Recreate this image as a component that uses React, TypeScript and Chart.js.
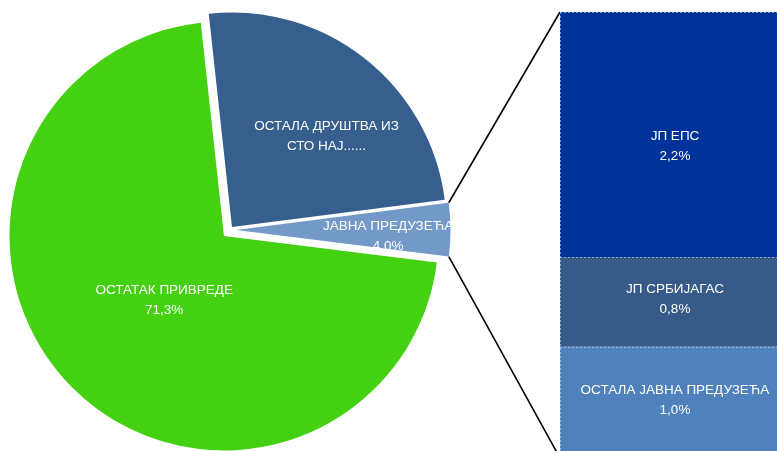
import React, { useEffect, useRef } from 'react';
import { Chart, registerables } from 'chart.js';

Chart.register(...registerables);

// ---- data ----
const pieCategories = ['ОСТАТАК ПРИВРЕДЕ', 'ОСТАЛА ДРУШТВА ИЗ СТО НАЈ......', 'ЈАВНА ПРЕДУЗЕЋА'];
const pieLabelLines = [['ОСТАТАК ПРИВРЕДЕ'], ['ОСТАЛА ДРУШТВА ИЗ', 'СТО НАЈ......'], ['ЈАВНА ПРЕДУЗЕЋА']];
const pieShowValue = [true, false, true];
const pieMainValues = [71.3, 24.7];
const barCategories = ['ОСТАЛА ЈАВНА ПРЕДУЗЕЋА', 'ЈП СРБИЈАГАС', 'ЈП ЕПС'];
const barValues = [1.0, 0.8, 2.2];
const barTotal = barValues.reduce((a, b) => a + b, 0);
const pieValues = [...pieMainValues, barTotal];

// ---- style ----
const pieColors = ['#44D111', '#365F8E', '#7399C8'];
const barColors = ['#4F81BD', '#375B89', '#003399'];
const FONT = '13.5px "Liberation Sans", Arial, sans-serif';
const W = 777;
const H = 451;
const PIE_W = 562;
const BAR_LEFT = 560;
const BAR_TOP = 12;
const BAR_W = 230;
const BAR_H = 446;
// explode vectors (dx, dy) per slice
const EXPLODE: [number, number][] = [[0, 0], [8, -9], [12, -6]];
// label placement: [radius fraction, angle tweak in degrees]
const PIE_LABEL_POS: [number, number][] = [[0.41, -2.6], [0.61, 8], [0.71, 2.3]];
const BAR_LABEL_NUDGE = [-1.5, -3, 12];
const LINE_GAP = 20;

const fmt = (v: number) => v.toFixed(1).replace('.', ',') + '%';

function drawLines(ctx: CanvasRenderingContext2D, lines: string[], x: number, y: number) {
  ctx.save();
  ctx.font = FONT;
  ctx.fillStyle = '#ffffff';
  ctx.textAlign = 'center';
  ctx.textBaseline = 'middle';
  const start = y - ((lines.length - 1) * LINE_GAP) / 2;
  lines.forEach((l, i) => ctx.fillText(l, x, start + i * LINE_GAP));
  ctx.restore();
}

export default function App() {
  const pieRef = useRef<HTMLCanvasElement | null>(null);
  const barRef = useRef<HTMLCanvasElement | null>(null);

  useEffect(() => {
    if (!pieRef.current || !barRef.current) return;

    const barPlugin = {
      id: 'barLabels',
      afterDatasetsDraw(chart: any) {
        const ctx = chart.ctx as CanvasRenderingContext2D;
        const area = chart.chartArea;
        ctx.save();
        ctx.strokeStyle = 'rgba(255,255,255,0.45)';
        ctx.lineWidth = 1;
        ctx.setLineDash([2, 2]);
        barValues.forEach((_, i) => {
          const el = chart.getDatasetMeta(i).data[0];
          ctx.beginPath();
          ctx.moveTo(area.left, Math.round(el.y) + 0.5);
          ctx.lineTo(area.right, Math.round(el.y) + 0.5);
          ctx.stroke();
        });
        ctx.beginPath();
        ctx.moveTo(area.left + 0.5, area.top);
        ctx.lineTo(area.left + 0.5, area.bottom);
        ctx.stroke();
        ctx.restore();
        barValues.forEach((v, i) => {
          const el = chart.getDatasetMeta(i).data[0];
          const cy = (el.y + el.base) / 2 + BAR_LABEL_NUDGE[i];
          drawLines(ctx, [barCategories[i], fmt(v)], el.x, cy);
        });
      },
    };

    const barChart = new Chart(barRef.current, {
      type: 'bar',
      data: {
        labels: [''],
        datasets: barCategories.map((c, i) => ({
          label: c,
          data: [barValues[i]],
          backgroundColor: barColors[i],
          borderWidth: 0,
          barPercentage: 1,
          categoryPercentage: 1,
        })),
      },
      options: {
        responsive: false,
        animation: false,
        events: [],
        layout: { padding: 0 },
        scales: {
          x: { display: false, stacked: true },
          y: { display: false, stacked: true, min: 0, max: barTotal },
        },
        plugins: { legend: { display: false }, tooltip: { enabled: false } },
      },
      plugins: [barPlugin],
    });

    const shiftOf = (i: number) => EXPLODE[i];

    const piePlugin = {
      id: 'pieOfBar',
      beforeDatasetsDraw(chart: any) {
        const ctx = chart.ctx as CanvasRenderingContext2D;
        const meta = chart.getDatasetMeta(0);
        meta.data.forEach((arc: any, i: number) => {
          const [dx, dy] = shiftOf(i);
          ctx.save();
          ctx.translate(dx, dy);
          arc.draw(ctx);
          ctx.restore();
        });
        return false;
      },
      afterDraw(chart: any) {
        const ctx = chart.ctx as CanvasRenderingContext2D;
        const meta = chart.getDatasetMeta(0);
        meta.data.forEach((arc: any, i: number) => {
          const [dx, dy] = shiftOf(i);
          const [rf, tweak] = PIE_LABEL_POS[i];
          const mid = (arc.startAngle + arc.endAngle) / 2 + (tweak * Math.PI) / 180;
          const r = arc.outerRadius * rf;
          const x = arc.x + dx + Math.cos(mid) * r;
          const y = arc.y + dy + Math.sin(mid) * r;
          const lines = [...pieLabelLines[i]];
          if (pieShowValue[i]) lines.push(fmt(pieValues[i]));
          drawLines(ctx, lines, x, y);
        });
        // connector lines from the "other" slice to the bar
        const arc: any = meta.data[2];
        const [dx, dy] = shiftOf(2);
        const R = arc.outerRadius;
        const p1x = arc.x + dx + Math.cos(arc.startAngle) * R;
        const p1y = arc.y + dy + Math.sin(arc.startAngle) * R;
        const p2x = arc.x + dx + Math.cos(arc.endAngle) * R;
        const p2y = arc.y + dy + Math.sin(arc.endAngle) * R;
        const bx = BAR_LEFT + barChart.chartArea.left;
        const by1 = BAR_TOP + barChart.scales.y.getPixelForValue(barTotal);
        const by2 = BAR_TOP + barChart.scales.y.getPixelForValue(0);
        ctx.save();
        ctx.strokeStyle = '#000000';
        ctx.lineWidth = 1.6;
        ctx.beginPath();
        ctx.moveTo(p1x, p1y);
        ctx.lineTo(bx, by1);
        ctx.moveTo(p2x, p2y);
        ctx.lineTo(bx, by2);
        ctx.stroke();
        ctx.restore();
      },
    };

    const pieChart = new Chart(pieRef.current, {
      type: 'pie',
      data: {
        labels: pieCategories,
        datasets: [{ data: pieValues, backgroundColor: pieColors, borderWidth: 0 }],
      },
      options: {
        responsive: false,
        animation: false,
        events: [],
        rotation: 97.1,
        radius: 214.5,
        layout: { padding: { left: 0, right: PIE_W - 448, top: 21, bottom: 0 } },
        plugins: { legend: { display: false }, tooltip: { enabled: false } },
      },
      plugins: [piePlugin],
    });

    return () => {
      pieChart.destroy();
      barChart.destroy();
    };
  }, []);

  return (
    <div
      style={{
        position: 'fixed',
        left: 0,
        top: 0,
        width: W,
        height: H,
        overflow: 'hidden',
        background: '#ffffff',
      }}
    >
      <canvas
        ref={pieRef}
        width={PIE_W}
        height={H}
        style={{ position: 'absolute', left: 0, top: 0, width: PIE_W, height: H, display: 'block' }}
      />
      <canvas
        ref={barRef}
        width={BAR_W}
        height={BAR_H}
        style={{ position: 'absolute', left: BAR_LEFT, top: BAR_TOP, width: BAR_W, height: BAR_H, display: 'block' }}
      />
    </div>
  );
}
